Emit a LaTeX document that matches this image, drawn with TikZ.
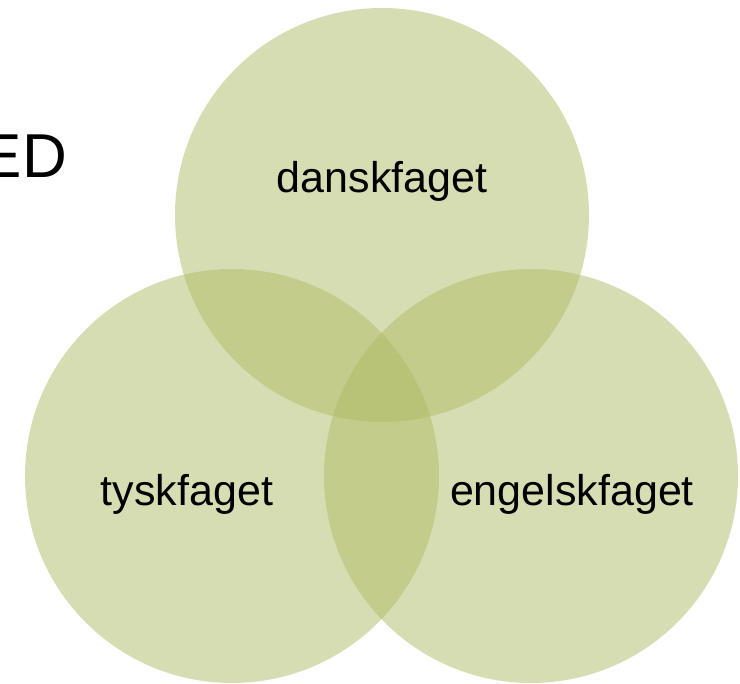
\documentclass[tikz,border=0pt]{standalone}
\usepackage{fontspec}
\setmainfont{Liberation Sans}
\definecolor{venn}{RGB}{175,187,101}
\begin{document}
\begin{tikzpicture}[x=1pt,y=-1pt,
  setcircle/.style={circle,draw=none,fill=venn,fill opacity=0.5,minimum size=414pt,inner sep=0pt},
  setlabel/.style={font=\fontsize{43}{50}\selectfont,text=black,inner sep=0pt}]
\useasboundingbox (0,0) rectangle (740,684);
\clip (0,0) rectangle (740,684);
\node[setcircle] (dansk) at (382,215) {};
\node[setcircle] (tysk) at (232,476) {};
\node[setcircle] (engelsk) at (531,476) {};
\node[setlabel] (ldansk) at (382,181) {danskfaget};
\node[setlabel] (ltysk) at (187,494) {tyskfaget};
\node[setlabel] (lengelsk) at (572,494) {engelskfaget};
\node[font=\fontsize{62}{70}\selectfont,anchor=base east,inner sep=0pt] (title) at (67,178) {ED};
\end{tikzpicture}
\end{document}
